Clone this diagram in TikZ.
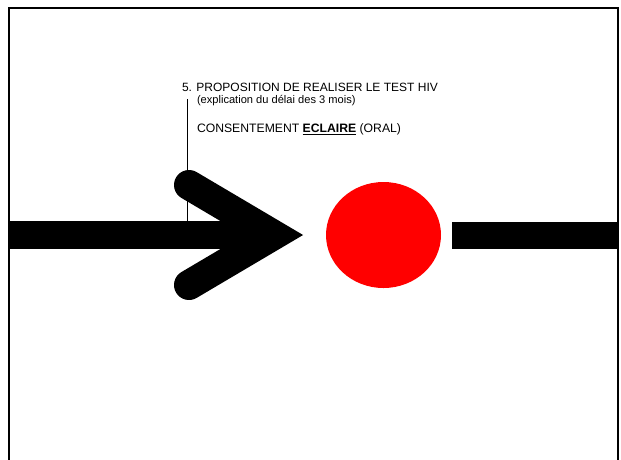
\documentclass[tikz,border=0pt]{standalone}
\usepackage{fontspec}
\setmainfont{Liberation Sans}
\begin{document}
\begin{tikzpicture}[x=1pt,y=-1pt,
  frameline/.style={line width=2pt, draw=black},
  thickbar/.style={fill=black},
  chevron/.style={line width=30pt, line cap=round, line join=miter, draw=black},
  leader/.style={line width=1pt, draw=black},
  txt/.style={anchor=base west, inner sep=0pt, outer sep=0pt}]
\useasboundingbox (0,0) rectangle (621,459);
% frame
\draw[frameline] (8.5,462) -- (8.5,8) -- (617.5,8) -- (617.5,462);
% left arrow
\fill[thickbar] (8,221) rectangle (274,249);
\draw[chevron] (189,185) -- (273.6,235) -- (189,285);
% red disc
\fill[red] (383.5,235) ellipse [x radius=57.5pt, y radius=53pt];
% right bar
\fill[thickbar] (452,222) rectangle (618,249);
% texts
\node[txt, font=\fontsize{12}{14}\selectfont] (l1) at (182,91.7) {5. PROPOSITION DE REALISER LE TEST HIV};
\node[txt, font=\fontsize{11.1}{13}\selectfont] (l2) at (197,103) {(explication du délai des 3 mois)};
\node[txt, font=\fontsize{12.2}{14}\selectfont] (l3) at (197,132.5) {CONSENTEMENT \underline{\textbf{ECLAIRE}} (ORAL)};
% leader line
\coordinate (lt) at (187,99);
\coordinate (lb) at (187,221);
\draw[leader] (lt) -- (lb);
\end{tikzpicture}
\end{document}
